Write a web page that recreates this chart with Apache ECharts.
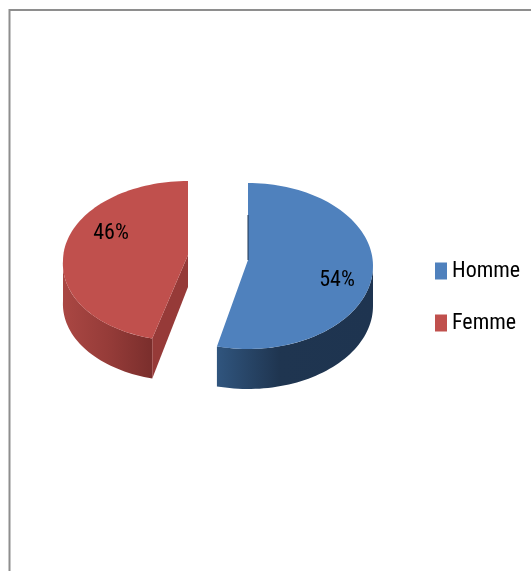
<!DOCTYPE html>
<html>
<head>
<meta charset="utf-8">
<style>html,body{margin:0;padding:0;background:#fff}#c{width:531px;height:571px}</style>
<script src="https://cdn.jsdelivr.net/npm/echarts@6/dist/echarts.min.js"></script>
</head>
<body>
<div id="c"></div>
<script>
const categories = ['Homme', 'Femme'];
const values = [54, 46];
const labels = ['54%', '46%'];
const topColors = ['#4f81bd', '#c0504d'];
const wallStops = [['#30557e', '#1f3550', '#1e3450'], ['#aa4743', '#963c39', '#7a2e2c']];
const cutColors = ['#1f3550', '#963a38'];
// pie layout: exploded slice centres, radii and label places (pixels)
const layout = [
  {cx: 248, cy: 266, apexY: 260, rx: 125, ry: 83, skew: 0, lx: 337, ly: 280},
  {cx: 188, cy: 261, apexY: 255, rx: 125, ry: 80, skew: 0.06, lx: 111, ly: 233}
];
const depth = 40;
const total = values.reduce((a, b) => a + b, 0);

function rimPoint(L, deg) {
  const a = deg * Math.PI / 180;
  const y = -L.ry * Math.cos(a);
  return [L.cx + L.rx * Math.sin(a) + (y > 0 ? -L.skew * y : 0), L.cy + y];
}
function arc(L, from, to) {
  const pts = [];
  const n = Math.max(2, Math.ceil(Math.abs(to - from) / 2));
  for (let i = 0; i <= n; i++) pts.push(rimPoint(L, from + (to - from) * i / n));
  return pts;
}
function down(p) { return [p[0], p[1] + depth]; }

function makeRender(idx) {
  return function (params, api) {
    const start = values.slice(0, idx).reduce((a, b) => a + b, 0) / total * 360;
    const end = start + api.value(0) / total * 360;
    const L = layout[idx];
    const apex = [L.cx, L.apexY];
    const children = [];
    const wFrom = Math.max(start, 90), wTo = Math.min(end, 270);
    if (wTo > wFrom) {
      const rim = arc(L, wFrom, wTo);
      children.push({
        type: 'polygon',
        shape: {points: rim.concat(rim.map(down).reverse())},
        style: {fill: {type: 'linear', x: 0, y: 0, x2: 1, y2: 0, colorStops:
          (idx === 0
            ? [{offset: 0, color: wallStops[0][0]}, {offset: 0.4, color: wallStops[0][1]}, {offset: 1, color: wallStops[0][2]}]
            : [{offset: 0, color: wallStops[1][0]}, {offset: 0.5, color: wallStops[1][1]}, {offset: 1, color: wallStops[1][2]}])}}
      });
    }
    if (idx === 1) {
      const e = rimPoint(L, start);
      children.push({
        type: 'polygon',
        shape: {points: [apex, e, down(e), [apex[0], apex[1] + depth - 8]]},
        style: {fill: cutColors[idx]}
      });
    }
    children.push({
      type: 'polygon',
      shape: {points: [apex].concat(arc(L, start, end))},
      style: {fill: topColors[idx]}
    });
    if (idx === 0) {
      children.push({
        type: 'polyline',
        shape: {points: [[apex[0], apex[1]], [apex[0], apex[1] - 45]]},
        style: {stroke: cutColors[0], lineWidth: 1, fill: 'none'}
      });
    }
    children.push({
      type: 'text',
      style: {text: labels[idx], x: L.lx, y: L.ly, align: 'center', verticalAlign: 'middle',
        font: 'condensed 22px Roboto, sans-serif', fill: '#000'}
    });
    return {type: 'group', children: children};
  };
}

const chart = echarts.init(document.getElementById('c'), null, {renderer: 'canvas'});
chart.setOption({
  animation: false,
  backgroundColor: '#fff',
  graphic: [{type: 'rect', shape: {x: 9.5, y: 10, width: 600, height: 600},
    style: {fill: 'none', stroke: '#8e8e8e', lineWidth: 2}, silent: true, z: -1}],
  legend: {
    data: categories, orient: 'vertical', left: 430, top: 255, itemWidth: 12, itemHeight: 17, itemGap: 30,
    icon: 'rect',
    textStyle: {fontFamily: 'Roboto, sans-serif', fontWeight: 'condensed', fontSize: 22, color: '#000'}
  },
  series: categories.map((name, i) => ({
    type: 'custom', name, coordinateSystem: 'none', renderItem: makeRender(i),
    itemStyle: {color: topColors[i]}, data: [values[i]]
  }))
});
</script>
</body>
</html>
